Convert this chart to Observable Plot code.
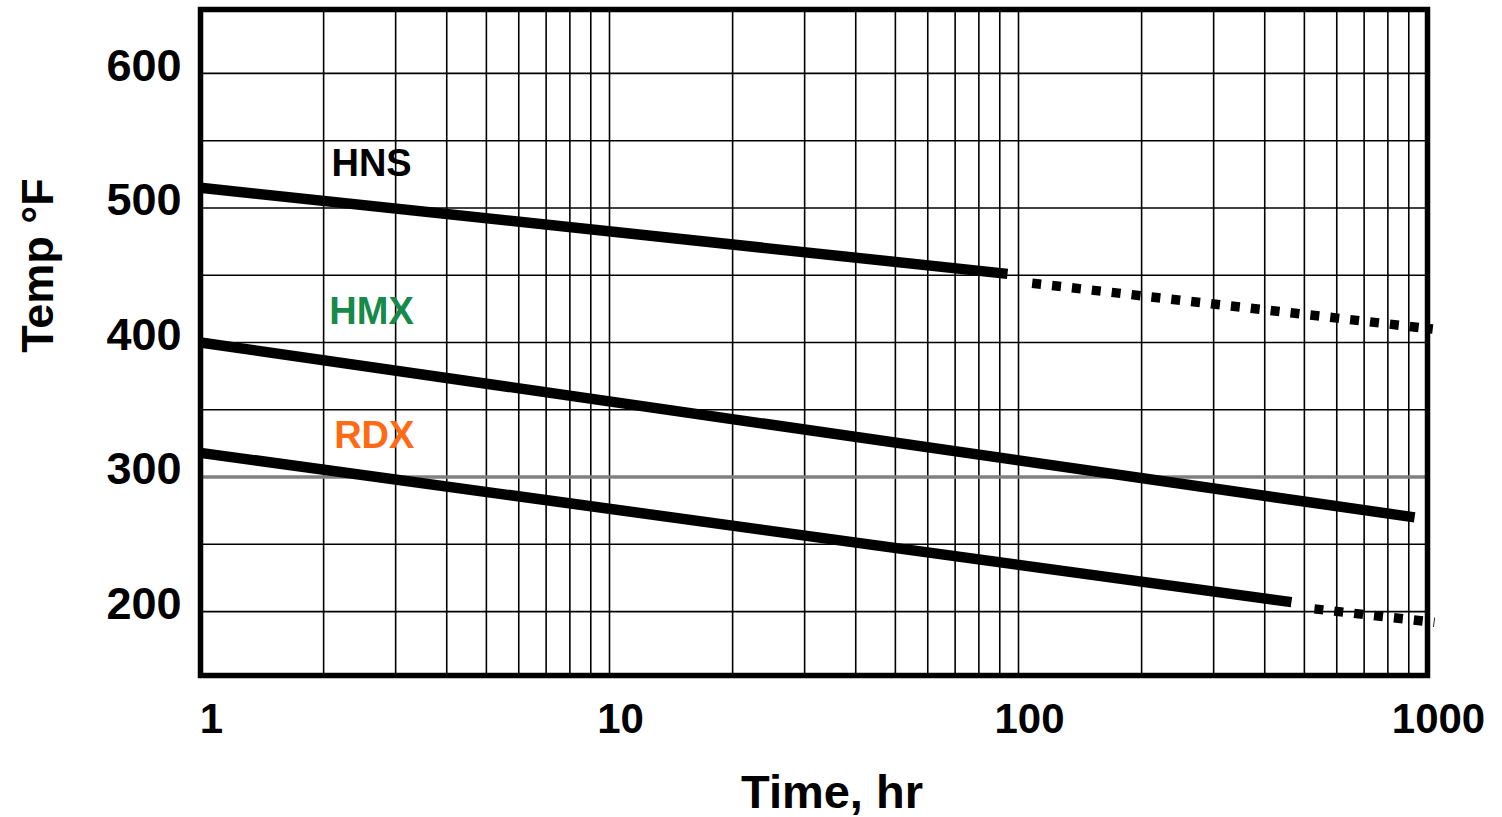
<!DOCTYPE html>
<html>
<head>
<meta charset="utf-8">
<script src="https://cdn.jsdelivr.net/npm/d3@7"></script>
<script src="https://cdn.jsdelivr.net/npm/@observablehq/plot@0.6"></script>
<style>
  html, body { margin: 0; padding: 0; background: white; }
  #chart { width: 1502px; height: 817px; }
</style>
</head>
<body>
<div id="chart"></div>
<script>
// ---- data ----
const xTicks = [1, 10, 100, 1000];
const yTicks = [200, 300, 400, 500, 600];
const xGrid = [1, 2, 3, 4, 5, 6, 7, 8, 9, 10, 20, 30, 40, 50, 60, 70, 80, 90, 100, 200, 300, 400, 500, 600, 700, 800, 900, 1000];
const yGridBlack = [200, 250, 350, 400, 450, 500, 550, 600];
const yGridGray = [300];

// series: solid (measured) and dotted (extrapolated) segments
const hnsSolidTime = [1, 94];
const hnsSolidTemp = [515, 451];
const hnsDottedTime = [108, 1030];
const hnsDottedTemp = [444, 410];
const hmxSolidTime = [1, 930];
const hmxSolidTemp = [400, 270];
const rdxSolidTime = [1, 465];
const rdxSolidTemp = [318, 207];
const rdxDottedTime = [529, 1040];
const rdxDottedTemp = [202, 192];

const seriesNames = ["HNS", "HMX", "RDX"];
const seriesColors = ["#000000", "#17894A", "#FF6A14"];
const labelTime = [2.62, 2.62, 2.66];
const labelTemp = [533, 423, 331];

const xLabel = "Time, hr";
const yLabel = "Temp \u00B0F";

// ---- build tables ----
function rows(name, ts, vs) { return ts.map((t, i) => ({seg: name, t, temp: vs[i]})); }
const solidRows = [
  ...rows("HNS", hnsSolidTime, hnsSolidTemp),
  ...rows("HMX", hmxSolidTime, hmxSolidTemp),
  ...rows("RDX", rdxSolidTime, rdxSolidTemp)
];
const dottedRows = [
  ...rows("HNS", hnsDottedTime, hnsDottedTemp),
  ...rows("RDX", rdxDottedTime, rdxDottedTemp)
];
const labelRows = seriesNames.map((n, i) => ({name: n, t: labelTime[i], temp: labelTemp[i], color: seriesColors[i]}));

const font = "'Liberation Sans', Arial, Helvetica, sans-serif";

const chart = Plot.plot({
  width: 1502,
  height: 817,
  marginLeft: 200,
  marginRight: 75,
  marginTop: 9,
  marginBottom: 142,
  x: {type: "log", domain: [1, 1000]},
  y: {domain: [152.5, 647.5]},
  style: {fontFamily: font, background: "white", color: "black", overflow: "visible"},
  marks: [
    Plot.ruleX(xGrid, {stroke: "black", strokeWidth: 1.6}),
    Plot.ruleY(yGridBlack, {stroke: "black", strokeWidth: 1.6}),
    Plot.ruleY(yGridGray, {stroke: "#808080", strokeWidth: 3.5}),
    Plot.line(solidRows, {x: "t", y: "temp", z: "seg", stroke: "black", strokeWidth: 10.5, strokeLinecap: "butt"}),
    Plot.line(dottedRows, {x: "t", y: "temp", z: "seg", stroke: "black", strokeWidth: 9.5, strokeDasharray: "9,11", strokeLinecap: "butt"}),
    Plot.frame({stroke: "black", strokeWidth: 5.5}),
    Plot.axisX({ticks: xTicks, tickFormat: d => String(d), tickSize: 0, tickPadding: 28, fontSize: 42, fontWeight: "bold", dx: 11, label: null}),
    Plot.axisY({ticks: yTicks, tickFormat: d => String(d), tickSize: 0, tickPadding: 19, fontSize: 45, fontWeight: "bold", dy: -7, label: null}),
    Plot.text(labelRows, {x: "t", y: "temp", text: "name", fill: "color", fontSize: 38, fontWeight: "bold"}),
    Plot.text([xLabel], {frameAnchor: "bottom", text: d => d, dx: 18, dy: 117, fontSize: 47, fontWeight: "bold", lineAnchor: "middle", textAnchor: "middle"}),
    Plot.text([yLabel], {frameAnchor: "top-left", text: d => d, rotate: -90, dx: -162, dy: 256, fontSize: 45, fontWeight: "bold", lineAnchor: "middle", textAnchor: "middle"})
  ]
});
document.getElementById("chart").appendChild(chart);
</script>
</body>
</html>
